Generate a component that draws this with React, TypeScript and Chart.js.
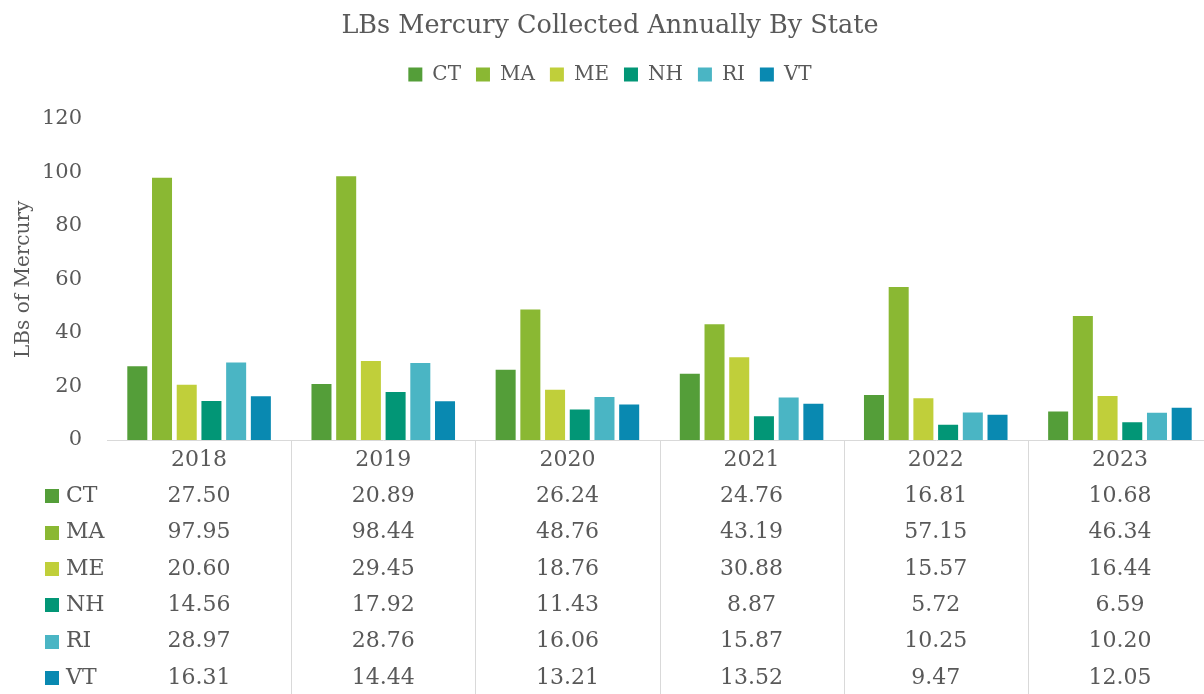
import React, { useEffect, useRef } from "react";
import { Chart, registerables } from "chart.js";

Chart.register(...registerables);

const years = ["2018", "2019", "2020", "2021", "2022", "2023"];
const states = ["CT", "MA", "ME", "NH", "RI", "VT"];
const ctValues = [27.5, 20.89, 26.24, 24.76, 16.81, 10.68];
const maValues = [97.95, 98.44, 48.76, 43.19, 57.15, 46.34];
const meValues = [20.6, 29.45, 18.76, 30.88, 15.57, 16.44];
const nhValues = [14.56, 17.92, 11.43, 8.87, 5.72, 6.59];
const riValues = [28.97, 28.76, 16.06, 15.87, 10.25, 10.2];
const vtValues = [16.31, 14.44, 13.21, 13.52, 9.47, 12.05];
const seriesValues = [ctValues, maValues, meValues, nhValues, riValues, vtValues];
const colors = ["#549E39", "#8AB833", "#C0CF3A", "#029676", "#4AB5C4", "#0989B1"];
const yMin = 0;
const yMax = 120;
const yStep = 20;

const FONT = "'DejaVu Serif', serif";
const TEXT = "#595959";
const LINE = "#D9D9D9";

const tablePlugin = {
  id: "dataTable",
  afterDraw(chart: any) {
    const { ctx, chartArea, scales } = chart;
    const x = scales.x;
    const bottom = chartArea.bottom;
    const H = chart.height;
    const half = (x.getPixelForValue(1) - x.getPixelForValue(0)) / 2;
    ctx.save();
    ctx.strokeStyle = LINE;
    ctx.lineWidth = 1;
    for (let i = 0; i < years.length; i++) {
      const bx = Math.round(x.getPixelForValue(i) + half) + 0.5;
      ctx.beginPath();
      ctx.moveTo(bx, bottom);
      ctx.lineTo(bx, H);
      ctx.stroke();
    }
    ctx.font = `22px ${FONT}`;
    ctx.textBaseline = "middle";
    ctx.fillStyle = TEXT;
    ctx.textAlign = "center";
    years.forEach((yr, i) => ctx.fillText(yr, x.getPixelForValue(i), bottom + 20));
    seriesValues.forEach((vals, r) => {
      const cy = bottom + 20 + 36.3 * (r + 1);
      ctx.fillStyle = colors[r];
      ctx.fillRect(45, Math.round(cy - 7), 14, 14);
      ctx.fillStyle = TEXT;
      ctx.textAlign = "left";
      ctx.fillText(states[r], 66, cy);
      ctx.textAlign = "center";
      vals.forEach((v, i) => ctx.fillText(v.toFixed(2), x.getPixelForValue(i), cy));
    });
    ctx.restore();
  },
};

export default function App() {
  const canvasRef = useRef<HTMLCanvasElement | null>(null);

  useEffect(() => {
    if (!canvasRef.current) return;
    const chart = new Chart(canvasRef.current, {
      type: "bar",
      data: {
        labels: years,
        datasets: states.map((s, i) => ({
          label: s,
          data: seriesValues[i],
          backgroundColor: colors[i],
          borderWidth: 0,
          categoryPercentage: 0.805,
          barPercentage: 0.81,
        })),
      },
      options: {
        animation: false,
        responsive: false,
        devicePixelRatio: 1,
        layout: { padding: { left: 0, right: 0, top: 0, bottom: 246 } },
        plugins: {
          title: {
            display: true,
            text: "LBs Mercury Collected Annually By State",
            color: TEXT,
            font: { family: FONT, size: 25.5, weight: "normal" },
            padding: { top: 11, bottom: 8 },
          },
          legend: {
            display: true,
            position: "top",
            labels: {
              boxWidth: 14,
              boxHeight: 14,
              padding: 15,
              color: TEXT,
              font: { family: FONT, size: 20 },
            },
          },
          tooltip: { enabled: false },
        },
        scales: {
          x: {
            type: "category",
            grid: { display: false },
            border: { display: true, color: LINE, width: 1 },
            ticks: { display: false },
          },
          xTop: {
            type: "category",
            position: "top",
            display: true,
            grid: { display: false },
            border: { display: false },
            ticks: { display: false },
            afterFit: (s: any) => {
              s.height = 24;
            },
          },
          y: {
            min: yMin,
            max: yMax,
            grid: { display: false },
            border: { display: false },
            ticks: {
              stepSize: yStep,
              padding: 17,
              color: TEXT,
              font: { family: FONT, size: 21 },
            },
            title: {
              display: true,
              text: "LBs of Mercury",
              color: TEXT,
              font: { family: FONT, size: 20 },
              padding: { top: 12, bottom: 0 },
            },
            afterFit: (s: any) => {
              s.width = 107;
            },
          },
          yRight: {
            type: "linear",
            position: "right",
            display: true,
            min: yMin,
            max: yMax,
            grid: { display: false },
            border: { display: false },
            ticks: { display: false },
            afterFit: (s: any) => {
              s.width = 8;
            },
          },
        },
      },
      plugins: [tablePlugin],
    });
    return () => chart.destroy();
  }, []);

  return (
    <div
      style={{
        position: "absolute",
        left: 0,
        top: 0,
        width: 1204,
        height: 694,
        overflow: "hidden",
        background: "#ffffff",
      }}
    >
      <canvas ref={canvasRef} width={1220} height={694} style={{ width: 1220, height: 694, display: "block" }} />
    </div>
  );
}
